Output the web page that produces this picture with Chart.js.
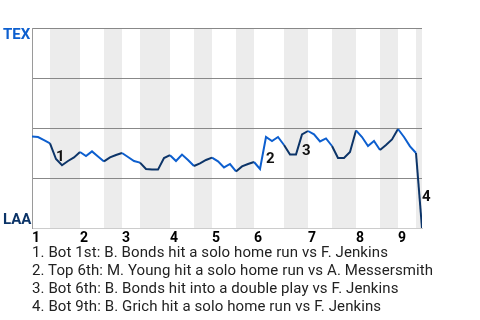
<!DOCTYPE html>
<html><head><meta charset="utf-8">
<script src="https://cdn.jsdelivr.net/npm/chart.js@4"></script>
<style>
html,body{margin:0;padding:0;background:#fff;}
#wrap{position:relative;width:480px;height:320px;overflow:hidden;}
#box{position:absolute;left:0;top:0;width:480px;height:250px;}
.team{position:absolute;left:3px;font-family:Roboto,sans-serif;font-weight:bold;font-size:15px;line-height:15px;white-space:nowrap;}
#notes{position:absolute;left:32px;top:244.3px;font-family:Roboto,sans-serif;font-size:15px;line-height:17.8px;letter-spacing:0.1px;color:#222;white-space:nowrap;}
</style></head>
<body><div id="wrap">
<div id="box"><canvas id="c" width="480" height="250"></canvas></div>
<div class="team" id="tex" style="top:26.5px;color:#0d5fcf">TEX</div>
<div class="team" id="laa" style="top:212px;color:#0c3468">LAA</div>
<div id="notes"></div>
</div>
<script>
// Data
const innings = ['1','2','3','4','5','6','7','8','9'];
const inningStartPA = [0, 8, 15, 23, 30, 37, 46, 54, 61];
const halfInningStarts = [0, 3, 8, 12, 15, 18, 23, 27, 30, 34, 37, 42, 46, 50, 54, 58, 61, 64, 65];
const texWinProb = [
  0.457, 0.455, 0.439, 0.423, 0.345, 0.314, 0.335, 0.353, 0.380, 0.360,
  0.383, 0.358, 0.333, 0.353, 0.365, 0.375, 0.355, 0.335, 0.327, 0.295,
  0.292, 0.292, 0.350, 0.364, 0.335, 0.367, 0.340, 0.310, 0.323, 0.340,
  0.352, 0.333, 0.303, 0.320, 0.283, 0.308, 0.320, 0.330, 0.295, 0.455,
  0.435, 0.455, 0.415, 0.367, 0.367, 0.468, 0.485, 0.468, 0.433, 0.448,
  0.410, 0.350, 0.350, 0.380, 0.488, 0.455, 0.410, 0.435, 0.390, 0.415,
  0.443, 0.495, 0.455, 0.408, 0.375, 0.000
];
const eventPA = [4, 39, 45, 65];
const eventNotes = [
  '1. Bot 1st: B. Bonds hit a solo home run vs F. Jenkins',
  '2. Top 6th: M. Young hit a solo home run vs A. Messersmith',
  '3. Bot 6th: B. Bonds hit into a double play vs F. Jenkins',
  '4. Bot 9th: B. Grich hit a solo home run vs F. Jenkins'
];
const TEX_COLOR = '#0d5fcf';
const LAA_COLOR = '#0c3468';

document.getElementById('notes').innerHTML = eventNotes.map(t => '<div>' + t + '</div>').join('');

function halfIndexOf(i) {
  for (let k = 0; k < halfInningStarts.length - 1; k++) {
    if (i >= halfInningStarts[k] && i < halfInningStarts[k + 1]) return k;
  }
  return halfInningStarts.length - 2;
}

const bandsPlugin = {
  id: 'bands',
  beforeDraw(chart) {
    const {ctx, chartArea, scales: {x}} = chart;
    ctx.save();
    ctx.fillStyle = '#ececec';
    for (let k = 1; k < halfInningStarts.length - 1; k += 2) {
      const x0 = x.getPixelForValue(halfInningStarts[k]);
      const x1 = x.getPixelForValue(halfInningStarts[k + 1]);
      ctx.fillRect(x0, chartArea.top, x1 - x0, chartArea.bottom - chartArea.top);
    }
    ctx.restore();
  }
};

const eventsPlugin = {
  id: 'events',
  afterDatasetsDraw(chart) {
    const {ctx, scales: {x, y}} = chart;
    ctx.save();
    ctx.fillStyle = '#111';
    ctx.font = 'bold 15px Roboto, sans-serif';
    ctx.textAlign = 'left';
    ctx.textBaseline = 'middle';
    eventPA.forEach((e, n) => {
      const mx = (x.getPixelForValue(e - 1) + x.getPixelForValue(e)) / 2;
      const my = (y.getPixelForValue(texWinProb[e - 1]) + y.getPixelForValue(texWinProb[e])) / 2;
      ctx.fillText(String(n + 1), mx + 3, my + 6.5);
    });
    ctx.restore();
  }
};

new Chart(document.getElementById('c'), {
  type: 'line',
  data: {
    datasets: [{
      data: texWinProb.map((v, i) => ({x: i, y: v})),
      borderWidth: 2,
      pointRadius: 0,
      tension: 0,
      fill: false,
      borderColor: TEX_COLOR,
      segment: {
        borderColor: c => (halfIndexOf(c.p0DataIndex) % 2 === 0 ? TEX_COLOR : LAA_COLOR)
      }
    }]
  },
  options: {
    responsive: false,
    animation: false,
    events: [],
    layout: {padding: {left: 32, right: 58, top: 28, bottom: 2}},
    plugins: {legend: {display: false}, tooltip: {enabled: false}},
    scales: {
      x: {
        type: 'linear', min: 0, max: halfInningStarts[halfInningStarts.length - 1],
        afterBuildTicks: s => { s.ticks = inningStartPA.map(v => ({value: v})); },
        afterFit: s => { s.height = 20; },
        grid: {display: false, drawTicks: false},
        border: {display: true, color: '#cccccc', width: 1},
        ticks: {
          autoSkip: false, maxRotation: 0, align: 'start', padding: 2,
          color: '#000', font: {family: 'Roboto, sans-serif', size: 14, weight: 'bold'},
          callback: (v, i) => innings[i]
        }
      },
      y: {
        type: 'linear', min: 0, max: 1,
        ticks: {display: false, stepSize: 0.25},
        afterFit: s => { s.width = 0; },
        grid: {drawTicks: false, color: c => (c.tick && c.tick.value === 0 ? 'rgba(0,0,0,0)' : '#888888'), lineWidth: 1},
        border: {display: true, color: '#9a9a9a', width: 1}
      }
    }
  },
  plugins: [bandsPlugin, eventsPlugin]
});
</script>
</body></html>
